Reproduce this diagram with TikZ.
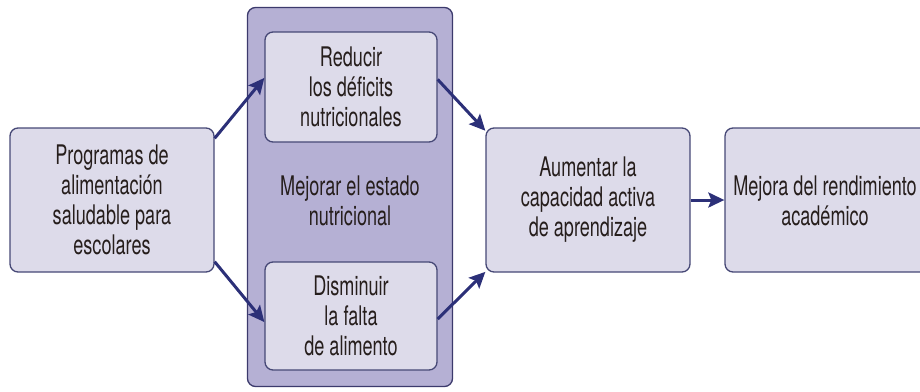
\documentclass[tikz,border=0pt]{standalone}
\usepackage{fontspec}
\setmainfont{TeX Gyre Heros}[FakeStretch=0.67]
\usetikzlibrary{arrows.meta}
\definecolor{boxfill}{RGB}{221,219,234}
\definecolor{boxline}{RGB}{70,72,118}
\definecolor{panelfill}{RGB}{181,176,212}
\definecolor{panelline}{RGB}{60,58,108}
\definecolor{arrowcol}{RGB}{44,48,120}
\definecolor{txt}{RGB}{38,30,28}
\tikzset{
  stagebox/.style={draw=boxline, fill=boxfill, line width=1.3pt, rounded corners=8pt,
    align=center, text=txt, inner sep=0pt},
  link/.style={draw=arrowcol, line width=3pt, -{Stealth[inset=3pt,length=16pt,width=15pt]}}
}
\begin{document}
\begin{tikzpicture}[x=1pt,y=-1pt,font=\fontsize{27}{30}\selectfont]
  \useasboundingbox (0,0) rectangle (920,391);
  \clip (0,0) rectangle (920,391);
  \node[draw=panelline, fill=panelfill, line width=1.3pt, rounded corners=8pt,
    minimum width=205pt, minimum height=379pt] (panel) at (350,197) {};
  \node[stagebox, minimum width=204pt, minimum height=144pt] (prog) at (112,200)
    {Programas de\\alimentación\\saludable para\\escolares};
  \node[stagebox, minimum width=172pt, minimum height=110pt] (red) at (351,87)
    {Reducir\\los déficits\\nutricionales};
  \node[align=center, text=txt] (estado) at (350,201)
    {Mejorar el estado\\nutricional};
  \node[stagebox, minimum width=172pt, minimum height=108pt] (dis) at (351,316)
    {Disminuir\\la falta\\de alimento};
  \node[stagebox, minimum width=204pt, minimum height=144pt] (aum) at (588,200)
    {Aumentar la\\capacidad activa\\de aprendizaje};
  \node[stagebox, minimum width=212pt, minimum height=144pt] (mej) at (831,200) {};
  \node[align=center, text=txt] (mejtxt) at (825,201)
    {Mejora del rendimiento\\académico};
  \begin{scope}[link]
    \draw (prog.31) -- (red.174);
    \draw (prog.-31) -- (dis.184);
    \draw (red.5) -- (aum.146);
    \draw (dis.-2) -- (aum.-145);
    \draw (aum.east) -- (mej.west);
  \end{scope}
\end{tikzpicture}
\end{document}
